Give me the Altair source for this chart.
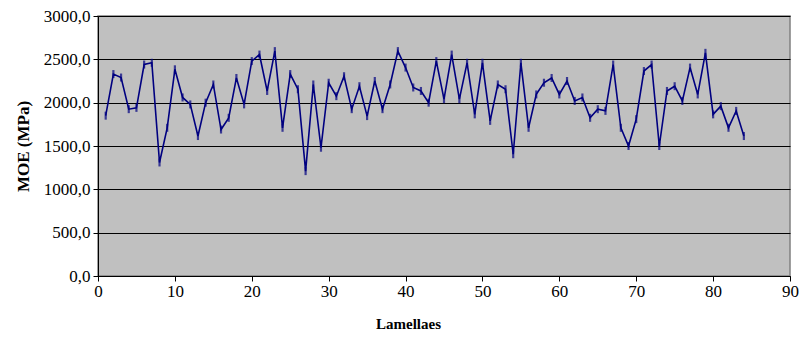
import altair as alt
import pandas as pd

lamellae = list(range(1, 85))
moe = [1850, 2330, 2290, 1925, 1940, 2440, 2460, 1310, 1710, 2385,
       2060, 1980, 1615, 2000, 2210, 1690, 1825, 2285, 1980, 2480,
       2555, 2135, 2595, 1710, 2330, 2155, 1210, 2210, 1480, 2230,
       2075, 2305, 1925, 2190, 1845, 2250, 1925, 2210, 2595, 2405,
       2175, 2135, 2000, 2480, 2040, 2555, 2040, 2460, 1865, 2460,
       1790, 2210, 2155, 1405, 2460, 1710, 2095, 2230, 2285, 2095,
       2250, 2020, 2060, 1825, 1925, 1905, 2440, 1710, 1500, 1810,
       2365, 2440, 1500, 2135, 2190, 2020, 2405, 2095, 2575, 1865,
       1960, 1710, 1905, 1615]

df = pd.DataFrame({"Lamellae": lamellae, "MOE": moe})

FONT = "Liberation Serif"

x = alt.X("Lamellae:Q", scale=alt.Scale(domain=[0, 90], nice=False),
          axis=alt.Axis(title="Lamellaes", values=list(range(0, 91, 10)),
                        grid=False, labelFontSize=17, labelFont=FONT,
                        labelColor="black", titleFont=FONT, titleFontSize=15,
                        titleFontWeight="bold", titleColor="black",
                        domainColor="black", tickColor="black", tickSize=5,
                        labelPadding=2, titleX=310, titleY=40,
                        labelFlush=False))
y = alt.Y("MOE:Q", scale=alt.Scale(domain=[0, 3000], nice=False),
          axis=alt.Axis(title="MOE (MPa)", values=list(range(0, 3001, 500)),
                        labelExpr="replace(format(datum.value, '.1f'), '.', ',')",
                        grid=True, gridColor="black", gridWidth=1.2, gridOpacity=1,
                        labelFontSize=17, labelFont=FONT, labelColor="black",
                        titleFont=FONT, titleFontSize=17, titleFontWeight="bold",
                        titleColor="black", domainColor="black", tickColor="black",
                        tickSize=5, labelPadding=3, titleX=-75, titleBaseline="middle",
                        labelFlush=False))

line = alt.Chart(df).mark_line(color="#000080", strokeWidth=1.6).encode(x=x, y=y)
ticks = alt.Chart(df).mark_tick(color="#000080", orient="vertical", size=8,
                                thickness=2.2).encode(x="Lamellae:Q", y="MOE:Q")

chart = (line + ticks).properties(
    width=692, height=260,
    autosize=alt.AutoSizeParams(type="none"),
    padding={"left": 90, "top": 8, "right": 9, "bottom": 55},
    background="white",
).configure_view(fill="#C0C0C0", stroke="#808080", strokeWidth=1.5)

chart.save("out.html", embed_options={"renderer": "svg", "actions": False})
